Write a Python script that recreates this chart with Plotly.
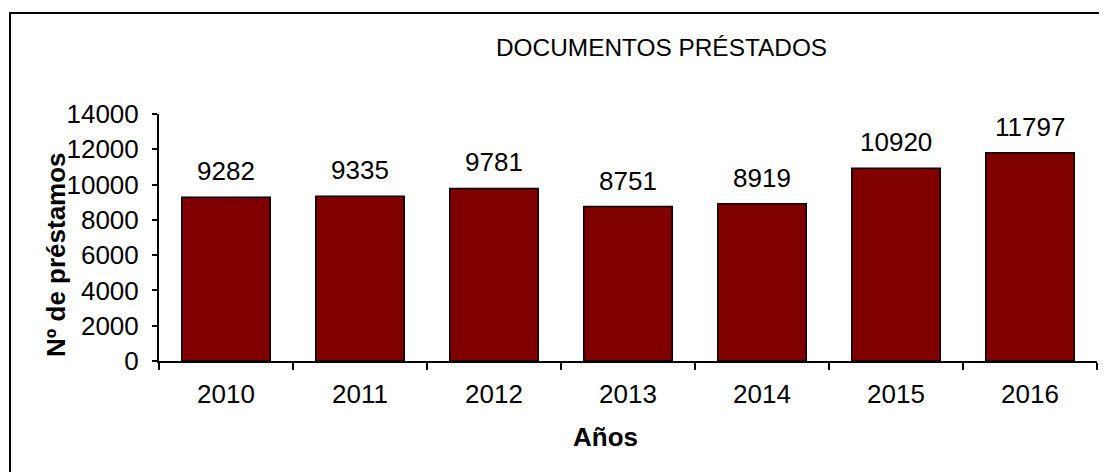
import plotly.graph_objects as go

years = ["2010", "2011", "2012", "2013", "2014", "2015", "2016"]
loans = [9282, 9335, 9781, 8751, 8919, 10920, 11797]
y_ticks = [0, 2000, 4000, 6000, 8000, 10000, 12000, 14000]

W, H = 1107, 472
OFF = 8  # default page body margin
L, R, T, B = 159, 1097, 114, 361
pw, ph = R - L, B - T

def px(x):
    return (x - L) / pw

def py(y):
    return (B - y) / ph

FONT = "Liberation Sans, Arial, sans-serif"

fig = go.Figure()
fig.add_trace(go.Bar(
    x=years, y=loans,
    marker=dict(color="#800000", line=dict(color="black", width=1.5)),
    hoverinfo="x+y",
))

annotations = []
for i, v in enumerate(loans):
    annotations.append(dict(x=i, y=v, xref="x", yref="y", text=str(v),
                            showarrow=False, yanchor="middle", yshift=26,
                            font=dict(size=26, color="black", family=FONT)))

annotations.append(dict(x=px(661), y=py(48), xref="paper", yref="paper",
                        text="DOCUMENTOS PRÉSTADOS", showarrow=False,
                        xanchor="center", yanchor="middle",
                        font=dict(size=24.4, color="black", family=FONT)))
annotations.append(dict(x=px(56), y=py(255), xref="paper", yref="paper",
                        text="<b>Nº de préstamos</b>", showarrow=False, textangle=-90,
                        xanchor="center", yanchor="middle",
                        font=dict(size=26, color="black", family=FONT)))
annotations.append(dict(x=px(605), y=py(437), xref="paper", yref="paper",
                        text="<b>Años</b>", showarrow=False,
                        xanchor="center", yanchor="middle",
                        font=dict(size=26, color="black", family=FONT)))

fig.update_layout(
    width=W - OFF, height=H - OFF,
    margin=dict(l=L - OFF, r=W - R, t=T - OFF, b=H - B, pad=0),
    paper_bgcolor="white", plot_bgcolor="white",
    bargap=0.34,
    showlegend=False,
    font=dict(family=FONT, size=26, color="black"),
    annotations=annotations,
    shapes=[dict(type="rect", xref="paper", yref="paper",
                 x0=px(10), x1=px(1112), y0=py(477), y1=py(13),
                 line=dict(color="black", width=2), fillcolor="rgba(0,0,0,0)",
                 layer="below")],
    xaxis=dict(type="category", range=[-0.5, len(years) - 0.5],
               showline=True, linecolor="black", linewidth=2,
               ticks="outside", ticklen=7, tickwidth=2, tickcolor="black",
               tickson="boundaries", showgrid=False, zeroline=False,
               tickfont=dict(size=26, family=FONT, color="black"),
               ticklabelstandoff=9, fixedrange=True),
    yaxis=dict(range=[0, 14000], tickvals=y_ticks,
               ticktext=[str(t) for t in y_ticks],
               showline=True, linecolor="black", linewidth=2,
               ticks="outside", ticklen=5, tickwidth=2, tickcolor="black",
               showgrid=False, zeroline=False,
               tickfont=dict(size=26, family=FONT, color="black"),
               ticklabelstandoff=8, fixedrange=True),
)

fig.write_html("out.html")
